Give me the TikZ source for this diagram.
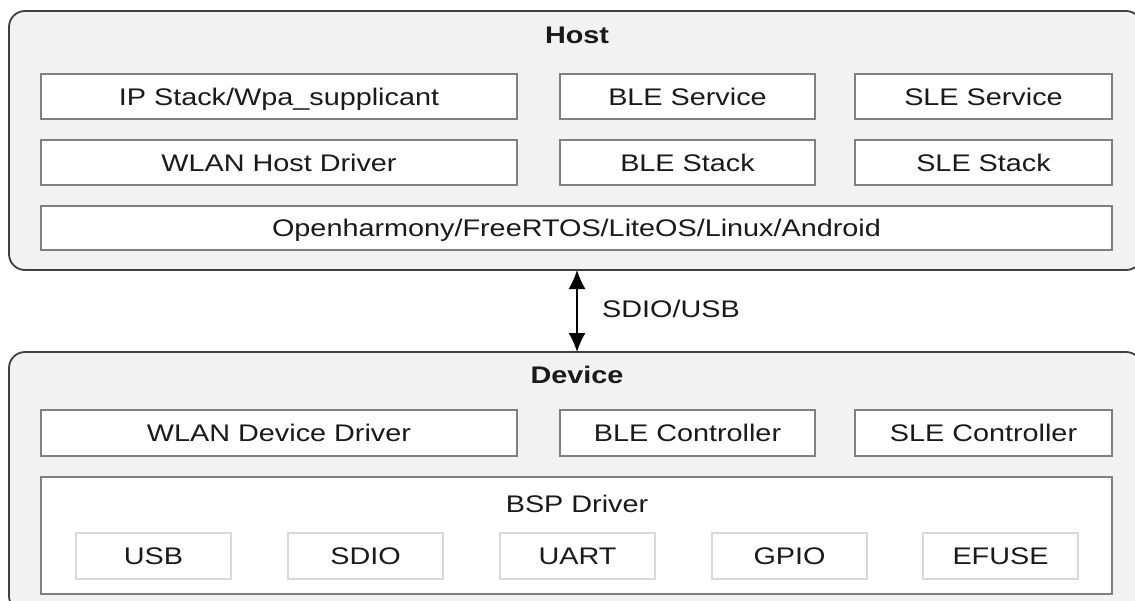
\documentclass[tikz,border=0pt]{standalone}
\usepackage{fontspec}
\setmainfont{Liberation Sans}[FakeStretch=1.2]
\usetikzlibrary{arrows.meta}
\definecolor{outerfill}{HTML}{F2F2F2}
\definecolor{outerline}{HTML}{404040}
\definecolor{innerline}{HTML}{808080}
\definecolor{lightline}{HTML}{D9D9D9}
\definecolor{txt}{HTML}{1A1A1A}
\begin{document}
\begin{tikzpicture}[x=1pt,y=-1pt,
  every node/.style={font=\fontsize{24}{28}\selectfont, text=txt, inner sep=0pt, text height=17.2pt, text depth=0pt},
  outerbox/.style={draw=outerline, line width=1.8pt, fill=outerfill, rounded corners=16pt, minimum width=1133pt},
  layerbox/.style={draw=innerline, line width=1.4pt, fill=white},
  bspbox/.style={draw=lightline, line width=1.6pt, fill=white, minimum width=155pt, minimum height=46pt},
  title/.style={font=\fontsize{24}{28}\selectfont\bfseries}]
\useasboundingbox (0,0) rectangle (1135,600);
\begin{scope}
\clip (0,0) rectangle (1135,600);
% Host
\node[outerbox, minimum height=259pt] (host) at (575.5,140.5) {};
\node[title] (hostt) at (577,34.5) {Host};
\node[layerbox, minimum width=476pt, minimum height=45pt] (ip) at (279,96.5) {IP Stack/Wpa\_supplicant};
\node[layerbox, minimum width=255pt, minimum height=45pt] (bles) at (687.5,96.5) {BLE Service};
\node[layerbox, minimum width=257pt, minimum height=45pt] (sles) at (983.5,96.5) {SLE Service};
\node[layerbox, minimum width=476pt, minimum height=45pt] (wlanh) at (279,162.5) {WLAN Host Driver};
\node[layerbox, minimum width=255pt, minimum height=45pt] (blest) at (687.5,162.5) {BLE Stack};
\node[layerbox, minimum width=257pt, minimum height=45pt] (slest) at (983.5,162.5) {SLE Stack};
\node[layerbox, minimum width=1071pt, minimum height=44pt] (os) at (576.5,228) {Openharmony/FreeRTOS/LiteOS/Linux/Android};
% Device
\node[outerbox, minimum height=260pt] (dev) at (575.5,482) {};
\node[title] (devt) at (577,374.5) {Device};
\node[layerbox, minimum width=476pt, minimum height=46pt] (wland) at (279,433) {WLAN Device Driver};
\node[layerbox, minimum width=255pt, minimum height=46pt] (blec) at (687.5,433) {BLE Controller};
\node[layerbox, minimum width=257pt, minimum height=46pt] (slec) at (983.5,433) {SLE Controller};
\node[layerbox, minimum width=1071pt, minimum height=117pt] (bsp) at (576.5,535.5) {};
\node (bspt) at (577,503.5) {BSP Driver};
\node[bspbox] (usb) at (153.5,556) {USB};
\node[bspbox] (sdio) at (365.5,556) {SDIO};
\node[bspbox] (uart) at (577.5,556) {UART};
\node[bspbox] (gpio) at (789.5,556) {GPIO};
\node[bspbox] (efuse) at (1000.5,556) {EFUSE};
% link
\coordinate (atop) at (577,270);
\coordinate (abot) at (577,352);
\draw[line width=1.6pt, {Latex[length=19pt,width=17pt]}-{Latex[length=19pt,width=17pt]}] (atop) -- (abot);
\node[anchor=west] (link) at (602,308.5) {SDIO/USB};
\end{scope}
\end{tikzpicture}
\end{document}
